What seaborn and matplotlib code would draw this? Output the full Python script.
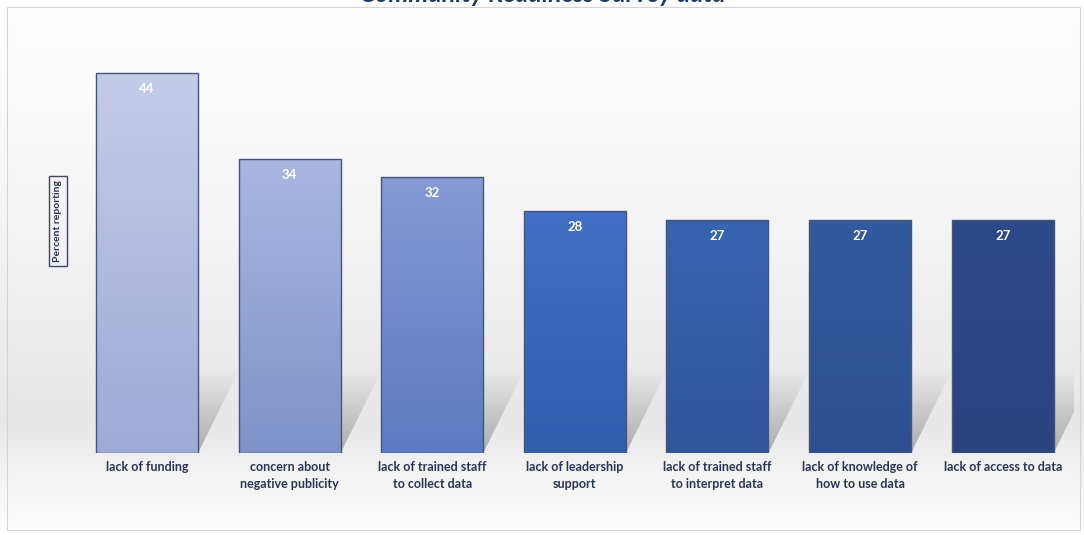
import numpy as np
import pandas as pd
import matplotlib
matplotlib.use("Agg")
import matplotlib.pyplot as plt
import seaborn as sns
from matplotlib.patches import Polygon, Rectangle
from matplotlib.colors import to_rgb

# ---------------- data ----------------
categories = [
    "lack of funding",
    "concern about\nnegative publicity",
    "lack of trained staff\nto collect data",
    "lack of leadership\nsupport",
    "lack of trained staff\nto interpret data",
    "lack of knowledge of\nhow to use data",
    "lack of access to data",
]
percent = [44, 34, 32, 28, 27, 27, 27]
title_text = "Community Readiness Survey data"
ylabel_text = "Percent reporting"

# ---------------- styles ----------------
top_colors = ["#c4cce8", "#a9b6e0", "#8699d3", "#4170c4", "#3864b2", "#33599f", "#2c4a87"]
bottom_colors = ["#9eaad7", "#7e93cb", "#5c7ac3", "#2f5ead", "#30569d", "#2e5093", "#2a4480"]

sns.set_theme(style="white")
plt.rcParams['font.family'] = ['Lato', 'DejaVu Sans']

W, H = 1084, 535
fig = plt.figure(figsize=(W / 100, H / 100), dpi=100)

# background gradient
bg = fig.add_axes([0, 0, 1, 1], zorder=-10)
bg.set_axis_off()
ypx = np.arange(H)
stops_y = [0, 60, 200, 330, 420, 470, 535]
stops_v = [1.0, 0.99, 0.962, 0.93, 0.905, 0.95, 0.995]
vals = np.interp(ypx, stops_y, stops_v)
grad = np.repeat(vals[:, None], 4, axis=1)[:, :, None].repeat(3, axis=2)
bg.imshow(grad, extent=[0, 1, 0, 1], aspect="auto", origin="upper")
bg.set_xlim(0, 1)
bg.set_ylim(0, 1)

# outer border
fig.patches.append(Rectangle((7 / W, 5 / H), (1080 - 7) / W, (528 - 5) / H,
                             transform=fig.transFigure, fill=False,
                             edgecolor="#d4d4d4", linewidth=0.8))

# main axes
base_px = 453
px_per_unit = 8.64
ymax = 48
left = 75.7 / W
right = 1074 / W
bottom = (H - base_px) / H
height = ymax * px_per_unit / H
ax = fig.add_axes([left, bottom, right - left, height])
ax.patch.set_alpha(0)

df = pd.DataFrame({"category": categories, "percent": percent})
sns.barplot(data=df, x="category", y="percent", hue="category",
            palette=bottom_colors, legend=False, width=0.715, ax=ax,
            saturation=1, edgecolor="#44557d", linewidth=1.0)

patches = list(ax.patches)
for i, p in enumerate(patches):
    x0, w, h = p.get_x(), p.get_width(), p.get_height()
    # shadow (sheared projection behind the bar)
    sh, dx = 10.0, 0.30
    poly = Polygon([(x0 + 0.02, 0), (x0 + w, 0), (x0 + w + dx, sh), (x0 + dx, sh)],
                   closed=True, facecolor="none", edgecolor="none")
    ax.add_patch(poly)
    sg = np.zeros((100, 1, 4))
    sg[:, 0, :3] = 0.60
    sg[:, 0, 3] = np.linspace(0.0, 0.8, 100) ** 1.1
    im_s = ax.imshow(sg, extent=[x0, x0 + w + dx, 0, sh], aspect="auto",
                     origin="upper", zorder=0.5)
    im_s.set_clip_path(poly)
    # bar gradient
    tc, bc = np.array(to_rgb(top_colors[i])), np.array(to_rgb(bottom_colors[i]))
    t = np.linspace(0, 1, 100)[:, None]
    g = (tc * (1 - t) + bc * t)[:, None, :]
    im = ax.imshow(g, extent=[x0, x0 + w, 0, h], aspect="auto", origin="upper", zorder=2)
    im.set_clip_path(p)
    p.set_facecolor("none")
    p.set_zorder(3)
    ax.text(x0 + w / 2, h - 1.85, f"{percent[i]}", ha="center", va="center",
            color="white", fontsize=9.5, fontweight="bold", zorder=4)

ax.set_xlim(-0.5, len(categories) - 0.5)
ax.set_ylim(0, ymax)
ax.set_yticks([])
ax.set_xlabel("")
ax.set_ylabel("")
for s in ax.spines.values():
    s.set_visible(False)
ax.tick_params(axis="x", length=0, pad=6)
ax.set_xticks(range(len(categories)))
ax.set_xticklabels(categories, fontsize=9, fontweight="bold", color="#2b3656",
                   linespacing=1.45, va="top")

# y label boxed
fig.text(58 / W, 1 - 221 / H, ylabel_text, rotation=90, ha="center", va="center",
         fontsize=7.5, fontweight="bold", color="#2a3452",
         bbox=dict(boxstyle="square,pad=0.4", facecolor="none",
                   edgecolor="#3a4868", linewidth=1.0))

# title (cut off at the top edge as in the reference)
fig.text(543 / W, 1 - 2 / H, title_text, ha="center", va="baseline",
         fontsize=18, fontweight="bold", fontstyle="italic", color="#1f3864")

fig.savefig("out.png", dpi=100)
